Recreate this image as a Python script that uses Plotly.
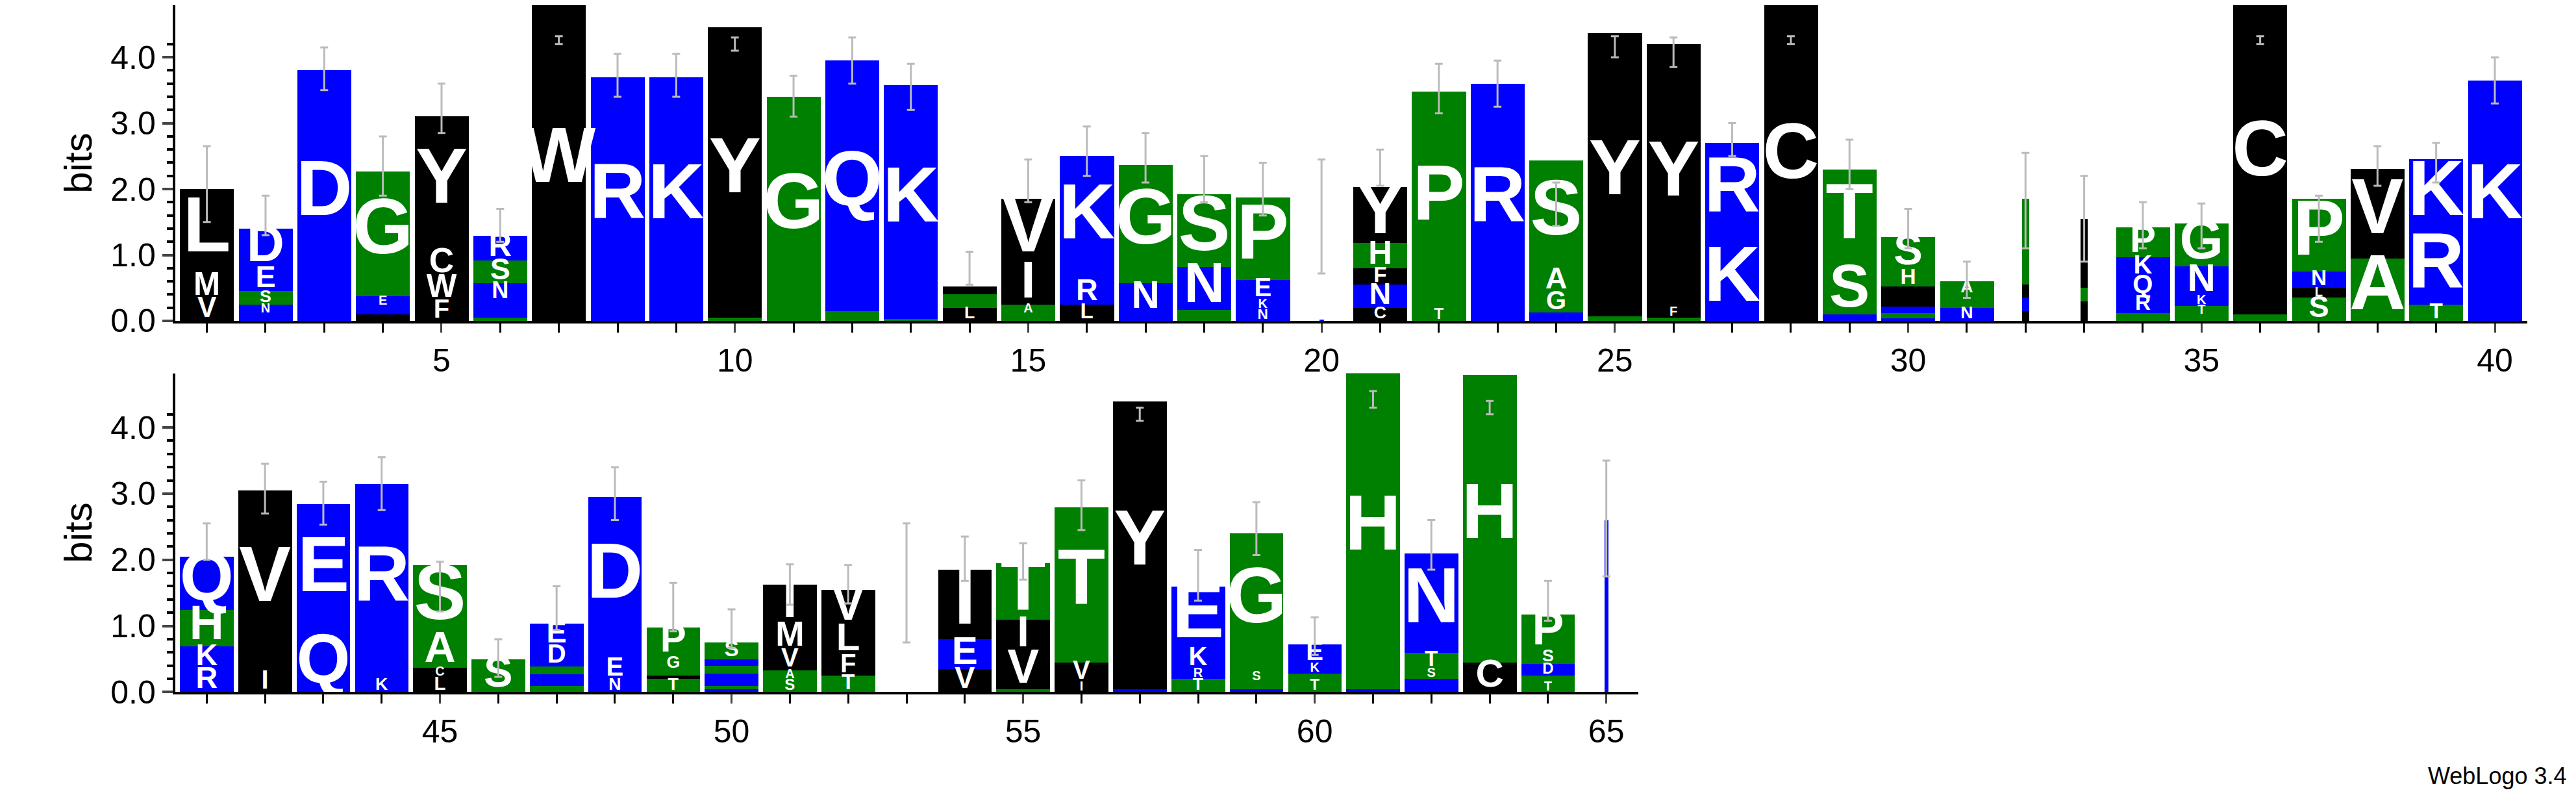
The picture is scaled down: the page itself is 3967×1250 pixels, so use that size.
import plotly.graph_objects as go

# sequence logo: letters per position, bottom -> top, heights in bits
positions = list(range(1, 66))
letters = [
    "VML", "KNSED", "D", "IDEG", "FWCY", "AKQNSR", "W", "R", "K", "AY",
    "G", "TSQ", "AK", "LAPY", "TAIV", "LRK", "DNG", "TANS", "NKEP", "E",
    "CNFHY", "TP", "R", "NGAS", "TY", "TFY", "KR", "LC", "QST", "DTNFVYHS",
    "NSPA", "VRFT", "VTLI", "SRQKP", "STKNG", "TC", "SLNP", "AV", "TRK", "EK",
    "RKHQ", "IV", "QE", "KR", "LCAS", "S", "TSQKHDE", "NED", "TMSGP", "NHRQTKS",
    "SAVMI", "TFLV", "A", "VEI", "AVIT", "IVT", "NY", "TRKE", "EASG", "TSKE",
    "NH", "DESTN", "CH", "THDSP", "Q",
]
heights = [
    [0.33, 0.37, 1.3], [0.1, 0.15, 0.2, 0.35, 0.6], [3.8], [0.1, 0.12, 0.15, 1.9],
    [0.3, 0.37, 0.4, 2.03], [0.05, 0.12, 0.13, 0.27, 0.35, 0.37], [4.8], [3.7], [3.7], [0.05, 4.4],
    [3.4], [0.1, 0.05, 3.8], [0.03, 3.55], [0.2, 0.1, 0.1, 0.12], [0.1, 0.15, 0.6, 1.0],
    [0.25, 0.35, 1.9], [0.12, 0.45, 1.8], [0.05, 0.12, 0.65, 1.1], [0.17, 0.15, 0.3, 1.25], [0.02],
    [0.2, 0.35, 0.25, 0.38, 0.85], [0.18, 3.3], [3.6], [0.13, 0.3, 0.35, 1.65],
    [0.07, 4.3], [0.05, 0.15, 4.0], [1.2, 1.5], [0.06, 4.8], [0.1, 0.7, 1.5],
    [0.04, 0.08, 0.1, 0.07, 0.1, 0.13, 0.25, 0.5], [0.2, 0.1, 0.1, 0.2], [0.15, 0.2, 0.2, 1.3],
    [0.3, 0.2, 0.3, 0.75], [0.12, 0.25, 0.3, 0.3, 0.45], [0.08, 0.15, 0.15, 0.45, 0.65], [0.1, 4.8],
    [0.35, 0.15, 0.25, 1.1], [0.95, 1.36], [0.25, 1.1, 1.1], [0.05, 3.6],
    [0.35, 0.35, 0.55, 0.8], [0.3, 2.75], [0.8, 2.05], [0.2, 2.95], [0.22, 0.15, 0.5, 1.05], [0.5],
    [0.05, 0.05, 0.1, 0.07, 0.12, 0.3, 0.35], [0.2, 0.3, 2.45], [0.2, 0.05, 0.08, 0.2, 0.45],
    [0.05, 0.05, 0.1, 0.08, 0.12, 0.1, 0.25], [0.18, 0.15, 0.3, 0.4, 0.6], [0.25, 0.3, 0.45, 0.55], [0.0],
    [0.35, 0.45, 1.05], [0.05, 0.55, 0.5, 0.85], [0.15, 0.3, 2.35], [0.05, 4.35],
    [0.2, 0.15, 0.3, 0.95], [0.05, 0.1, 0.15, 2.1], [0.18, 0.1, 0.15, 0.3], [0.05, 4.8],
    [0.12, 0.08, 0.15, 0.25, 1.5], [0.45, 4.35], [0.15, 0.1, 0.18, 0.2, 0.55], [2.6],
]
err_hi = [2.65, 1.9, 4.15, 2.8, 3.6, 1.7, 4.32, 4.05, 4.05, 4.3,
          3.72, 4.3, 3.9, 1.05, 2.45, 2.95, 2.85, 2.5, 2.4, 2.45,
          2.6, 3.9, 3.95, 2.1, 4.32, 4.3, 3.0, 4.32, 2.75, 1.7,
          0.9, 2.55, 2.2, 1.8, 1.78, 4.32, 1.9, 2.65, 2.7, 4.0,
          2.55, 3.45, 3.18, 3.55, 1.97, 0.8, 1.6, 3.4, 1.65, 1.25,
          1.93, 1.92, 2.55, 2.35, 2.25, 3.2, 4.3, 2.15, 2.87, 1.13,
          4.55, 2.6, 4.4, 1.68, 3.5]
err_lo = [1.5, 1.3, 3.5, 1.9, 2.85, 1.2, 4.2, 3.4, 3.4, 4.1,
          3.1, 3.6, 3.2, 0.55, 1.8, 2.2, 2.1, 1.8, 1.6, 0.72,
          2.05, 3.15, 3.25, 1.44, 4.0, 3.85, 2.5, 4.2, 2.0, 1.1,
          0.35, 1.1, 0.9, 1.1, 1.1, 4.2, 1.2, 2.05, 2.1, 3.3,
          2.0, 2.7, 2.53, 2.75, 1.22, 0.23, 0.94, 2.6, 0.92, 0.67,
          1.32, 1.34, 0.75, 1.68, 1.7, 2.45, 4.1, 1.38, 2.07, 0.56,
          4.3, 1.85, 4.2, 1.08, 1.75]
thin = {20: 0.08, 32: 0.12, 33: 0.12, 65: 0.06}

colors = {}
for aa in "DEKRNQ":
    colors[aa] = "#0000ff"
for aa in "GSTPAH":
    colors[aa] = "#008000"
for aa in "WYVCLIMF":
    colors[aa] = "#000000"

PX_PER_BIT = 104  # approx. vertical scale of both panels

fig = go.Figure()
for pos, lets, hs in zip(positions, letters, heights):
    yax = "y" if pos <= 40 else "y2"
    xax = "x" if pos <= 40 else "x2"
    w = thin.get(pos, 0.92)
    base = 0.0
    tx, ty, tt, ts = [], [], [], []
    for aa, h in zip(lets, hs):
        if h <= 0:
            continue
        fig.add_trace(go.Bar(
            x=[pos], y=[h], base=[base], width=w,
            marker=dict(color=colors[aa], line=dict(width=0)),
            xaxis=xax, yaxis=yax, showlegend=False, hoverinfo="skip",
        ))
        size = min(h * PX_PER_BIT / 0.78, 120 * w / 0.92)
        if size >= 18:
            tx.append(pos)
            ty.append(base + h / 2)
            tt.append(aa)
            ts.append(size)
        base += h
    if tt:
        fig.add_trace(go.Scatter(
            x=tx, y=ty, text=tt, mode="text", textposition="middle center",
            textfont=dict(color="white", family="Liberation Sans", size=ts, weight="bold"),
            xaxis=xax, yaxis=yax, showlegend=False, hoverinfo="skip",
        ))

# error bars
for sub, xax, yax in [(range(0, 40), "x", "y"), (range(40, 65), "x2", "y2")]:
    xs = [positions[i] for i in sub]
    mid = [(err_hi[i] + err_lo[i]) / 2 for i in sub]
    half = [(err_hi[i] - err_lo[i]) / 2 for i in sub]
    fig.add_trace(go.Scatter(
        x=xs, y=mid, mode="markers", marker=dict(size=1, color="rgba(0,0,0,0)"),
        error_y=dict(type="data", array=half, color="#bbbbbb", thickness=3, width=6),
        xaxis=xax, yaxis=yax, showlegend=False, hoverinfo="skip",
    ))

axis_font = dict(family="Liberation Sans", size=50, color="black")
common_x = dict(showline=True, linecolor="black", linewidth=4, ticks="outside",
                ticklen=14, tickwidth=3, tickfont=axis_font, showgrid=False,
                zeroline=False, minor=dict(ticks="outside", ticklen=14, dtick=1,
                                           tickwidth=3, tickcolor="black"))
common_y = dict(showline=True, linecolor="black", linewidth=4, ticks="outside",
                ticklen=16, tickwidth=4, tickfont=axis_font, showgrid=False,
                zeroline=False, tickvals=[0, 1, 2, 3, 4],
                ticktext=["0.0", "1.0", "2.0", "3.0", "4.0"],
                minor=dict(ticks="outside", ticklen=9, tickwidth=4,
                           tickvals=[i / 5 for i in range(0, 22)], tickcolor="black"),
                title=dict(text="bits", font=dict(family="Liberation Sans", size=60, color="black"),
                           standoff=10))

fig.update_layout(
    width=3967, height=1250, barmode="overlay", plot_bgcolor="white",
    paper_bgcolor="white", margin=dict(l=0, r=0, t=0, b=0), bargap=0,
    xaxis=dict(domain=[0.066, 0.979], range=[0.46, 40.55], anchor="y",
               tickvals=[5, 10, 15, 20, 25, 30, 35, 40], **common_x),
    yaxis=dict(domain=[0.602, 1.0], range=[0, 4.79], anchor="x", **common_y),
    xaxis2=dict(domain=[0.066, 0.634], range=[40.46, 65.55], anchor="y2",
                tickvals=[45, 50, 55, 60, 65], **common_x),
    yaxis2=dict(domain=[0.134, 0.536], range=[0, 4.82], anchor="x2", **common_y),
    annotations=[dict(text="WebLogo 3.4", x=0.995, y=0.01, xref="paper", yref="paper",
                      xanchor="right", yanchor="bottom", showarrow=False,
                      font=dict(family="Liberation Sans", size=36, color="black"))],
)

fig.write_html("out.html")
